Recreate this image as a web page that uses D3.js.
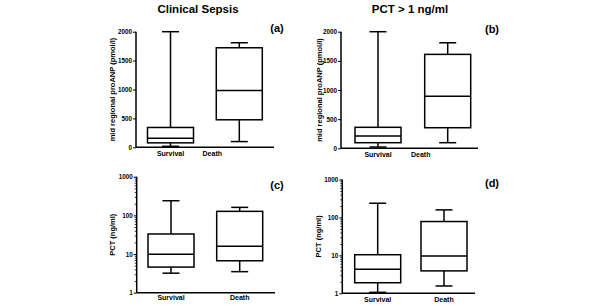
<!DOCTYPE html>
<html><head><meta charset="utf-8">
<script src="https://cdn.jsdelivr.net/npm/d3@7"></script>
<style>
html,body{margin:0;padding:0;background:#fff;}
svg{display:block;font-family:"Liberation Sans",Arial,sans-serif;}
</style></head>
<body>
<svg id="chart" width="600" height="306"></svg>
<script>
// ---- data ----
const categories = ["Survival", "Death"];
const columnTitles = ["Clinical Sepsis", "PCT > 1 ng/ml"];
const panelLetters = ["(a)", "(b)", "(c)", "(d)"];
const anpLabel = "mid regional proANP (pmol/l)";
const pctLabel = "PCT (ng/ml)";
const anpTicks = [0, 500, 1000, 1500, 2000];
const pctTicks = [1, 10, 100, 1000];
// [min, q1, median, q3, max] per category
const sepsisANP = [[17, 77, 157, 343, 2000], [99, 476, 981, 1722, 1809]];
const pct1ANP   = [[22, 96, 211, 360, 2000], [96, 353, 891, 1611, 1810]];
const sepsisPCT = [[3.2, 4.6, 9.8, 33, 239], [3.5, 6.7, 16, 127, 161]];
const pct1PCT   = [[1.06, 1.9, 4.3, 10.4, 237], [1.56, 3.9, 9.6, 78, 158]];

// ---- layout ----
const svg = d3.select("#chart");
const panels = [
  {data: sepsisANP, log: false, ax: 136, top: 31.7, bot: 147.3, xEnd: 274, c: [170.5, 239.3], lab: anpLabel, labX: 112.5, letter: [277, 32], catShift: [0, -27], catY: 156},
  {data: pct1ANP,   log: false, ax: 341, top: 31.7, bot: 148.3, xEnd: 478, c: [378, 447.7], lab: anpLabel, labX: 319.5, letter: [492, 33], catShift: [0, -27], catY: 157},
  {data: sepsisPCT, log: true, ax: 136.7, top: 176.7, bot: 292.7, xEnd: 275, c: [171, 239.7], lab: pctLabel, labX: 112, letter: [277, 189], catShift: [0, 0], catY: 300},
  {data: pct1PCT,   log: true, ax: 342.3, top: 179.5, bot: 293.3, xEnd: 475, c: [377.7, 444], lab: pctLabel, labX: 318, letter: [492, 187], catShift: [0, 0], catY: 301.5}
];
const boxW = 46, capW = 17, sw = 1.5;

panels.forEach((p, i) => {
  const g = svg.append("g");
  const y = p.log
    ? d3.scaleLog().domain([1, 1000]).range([p.bot, p.top])
    : d3.scaleLinear().domain([0, 2000]).range([p.bot, p.top]);
  const x = d3.scalePoint().domain(categories).range(p.c);

  // y axis
  const yAxis = d3.axisLeft(y).tickSize(3).tickPadding(1)
    .tickValues(p.log ? pctTicks : anpTicks)
    .tickFormat(d3.format("d"));
  const ya = g.append("g").attr("transform", `translate(${p.ax},0)`).call(yAxis);
  ya.select(".domain").attr("stroke-width", sw).attr("d", `M0,${p.bot}V${p.top}`);
  ya.selectAll(".tick line").attr("stroke-width", 1);
  ya.selectAll("text").attr("font-size", 6.3).attr("font-weight", "bold").attr("fill", "#000")
    .attr("font-family", "'Liberation Sans',Arial,sans-serif");
  if (p.log) {
    const minor = [];
    for (let e = 0; e < 3; e++) for (let k = 2; k <= 9; k++) minor.push(k * Math.pow(10, e));
    g.append("g").attr("transform", `translate(${p.ax},0)`)
      .call(d3.axisLeft(y).tickValues(minor).tickSize(2).tickFormat(""))
      .call(s => s.select(".domain").remove())
      .selectAll(".tick line").attr("stroke-width", 0.8);
  }

  // x axis line
  g.append("line").attr("x1", p.ax).attr("x2", p.xEnd).attr("y1", p.bot).attr("y2", p.bot)
    .attr("stroke", "#000").attr("stroke-width", sw);

  // category labels
  categories.forEach((c, j) => {
    g.append("text").attr("x", x(c) + p.catShift[j]).attr("y", p.catY)
      .attr("text-anchor", "middle").attr("font-size", 7).attr("font-weight", "bold").text(c);
  });

  // boxes
  p.data.forEach((v, j) => {
    const cx = x(categories[j]);
    const [mn, q1, md, q3, mx] = v;
    const bg = g.append("g").attr("stroke", "#000").attr("stroke-width", sw).attr("fill", "none");
    bg.append("line").attr("x1", cx).attr("x2", cx).attr("y1", y(mx)).attr("y2", y(q3));
    bg.append("line").attr("x1", cx).attr("x2", cx).attr("y1", y(q1)).attr("y2", y(mn));
    bg.append("line").attr("x1", cx - capW / 2).attr("x2", cx + capW / 2).attr("y1", y(mx)).attr("y2", y(mx));
    bg.append("line").attr("x1", cx - capW / 2).attr("x2", cx + capW / 2).attr("y1", y(mn)).attr("y2", y(mn));
    bg.append("rect").attr("x", cx - boxW / 2).attr("width", boxW)
      .attr("y", y(q3)).attr("height", y(q1) - y(q3)).attr("fill", "#fff");
    bg.append("line").attr("x1", cx - boxW / 2).attr("x2", cx + boxW / 2).attr("y1", y(md)).attr("y2", y(md));
  });

  // y label
  g.append("text").attr("transform", `translate(${p.labX},${(p.top + p.bot) / 2}) rotate(-90)`)
    .attr("text-anchor", "middle").attr("dy", "0.35em").attr("font-size", 7.5).attr("font-weight", "bold").text(p.lab);

  // panel letter
  g.append("text").attr("x", p.letter[0]).attr("y", p.letter[1]).attr("text-anchor", "middle")
    .attr("font-size", 11).attr("font-weight", "bold").text(panelLetters[i]);
});

// column titles
[198, 410].forEach((cx, i) => {
  svg.append("text").attr("x", cx).attr("y", 13).attr("text-anchor", "middle")
    .attr("font-size", 11.5).attr("font-weight", "bold").text(columnTitles[i]);
});
</script>
</body></html>
